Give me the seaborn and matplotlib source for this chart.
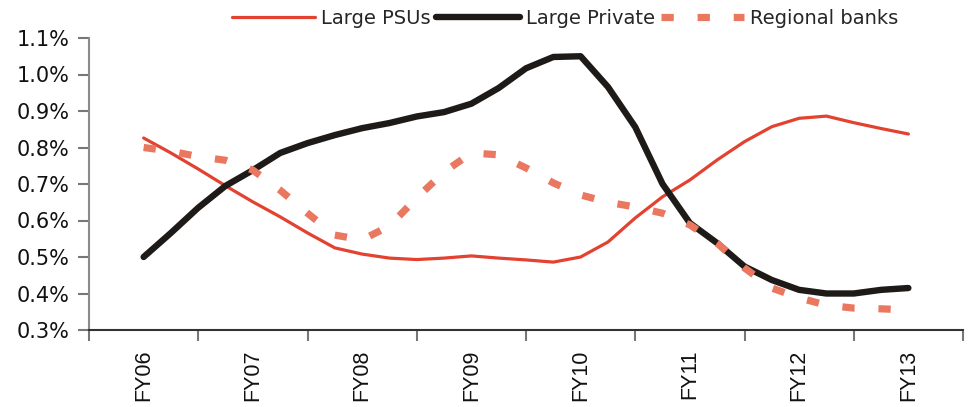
import numpy as np
import pandas as pd
import matplotlib
matplotlib.use("Agg")
import matplotlib.pyplot as plt
from matplotlib.ticker import FixedLocator, FuncFormatter
import seaborn as sns

# Fiscal years shown on the x axis
years = ["FY06", "FY07", "FY08", "FY09", "FY10", "FY11", "FY12", "FY13"]

# Quarterly readings (in %), FY06 through FY13
large_psus = [0.826, 0.785, 0.741, 0.695, 0.651, 0.610, 0.566, 0.525, 0.508,
              0.497, 0.493, 0.497, 0.503, 0.497, 0.492, 0.486, 0.500, 0.541,
              0.607, 0.665, 0.711, 0.766, 0.816, 0.857, 0.880, 0.886, 0.868,
              0.852, 0.837]
large_private = [0.500, 0.566, 0.635, 0.695, 0.738, 0.785, 0.812, 0.834, 0.853,
                 0.867, 0.885, 0.897, 0.920, 0.963, 1.017, 1.048, 1.050, 0.966,
                 0.856, 0.700, 0.593, 0.538, 0.474, 0.437, 0.410, 0.400, 0.400,
                 0.410, 0.415]
regional_banks = [0.800, 0.790, 0.775, 0.765, 0.738, 0.683, 0.620, 0.560, 0.547,
                  0.585, 0.662, 0.733, 0.785, 0.780, 0.744, 0.703, 0.670, 0.650,
                  0.637, 0.620, 0.588, 0.538, 0.470, 0.415, 0.388, 0.368, 0.360,
                  0.358, 0.355]

quarters = np.arange(len(large_psus)) / 4.0

df = pd.DataFrame({
    "t": np.tile(quarters, 3),
    "value": large_psus + large_private + regional_banks,
    "series": ["Large PSUs"] * len(large_psus)
              + ["Large Private"] * len(large_private)
              + ["Regional banks"] * len(regional_banks),
})

sns.set_theme(style="white")
plt.rcParams["font.family"] = ["DejaVu Sans"]

fig = plt.figure(figsize=(9.73, 4.07), dpi=100)
ax = fig.add_axes([89 / 973, 1 - 330 / 407, (963 - 89) / 973, (330 - 38) / 407])

styles = {
    "Large PSUs": dict(color="#E2422F", lw=2.3, dash=None),
    "Large Private": dict(color="#1E1A17", lw=4.6, dash=None),
    "Regional banks": dict(color="#EA7860", lw=5.2, dash=(1.7, 3.3)),
}

for name, st in styles.items():
    sub = df[df["series"] == name]
    sns.lineplot(data=sub, x="t", y="value", ax=ax, color=st["color"],
                 linewidth=st["lw"], label=name, legend=False)
    line = ax.get_lines()[-1]
    if st["dash"] is not None:
        line.set_dashes(st["dash"])
        line.set_dash_capstyle("butt")
    else:
        line.set_solid_capstyle("round")
        line.set_solid_joinstyle("round")

ax.set_xlim(-0.5, len(years) - 0.5)
ax.set_ylim(0.3, 1.1)
ax.set_xlabel("")
ax.set_ylabel("")

# Category labels centred, tick marks on category boundaries
ax.xaxis.set_major_locator(FixedLocator(np.arange(len(years))))
ax.set_xticklabels(years, rotation=90, fontsize=15.5, color="#111111",
                   family=["Liberation Sans", "DejaVu Sans"])
ax.xaxis.set_minor_locator(FixedLocator(np.arange(len(years) + 1) - 0.5))
ax.tick_params(axis="x", which="major", length=0, pad=14)
ax.tick_params(axis="x", which="minor", direction="out", length=8,
               width=1.5, color="#777777", bottom=True)

ax.yaxis.set_major_locator(FixedLocator(np.round(np.arange(0.3, 1.101, 0.1), 1)))
ax.yaxis.set_major_formatter(FuncFormatter(lambda v, _: f"{v:.1f}%"))
ax.tick_params(axis="y", direction="out", length=8, width=1.5,
               color="#777777", labelsize=15, labelcolor="#111111", left=True, pad=6)

for side in ("top", "right"):
    ax.spines[side].set_visible(False)
ax.spines["left"].set_color("#8a8a8a")
ax.spines["left"].set_linewidth(1.5)
ax.spines["bottom"].set_color("#333333")
ax.spines["bottom"].set_linewidth(1.5)

handles, labels = ax.get_legend_handles_labels()
fig.legend(handles, labels, loc="center", bbox_to_anchor=(565 / 973, 1 - 18 / 407),
           ncol=3, frameon=False, fontsize=14, handlelength=4.3,
           handletextpad=0.3, columnspacing=0.3, borderaxespad=0)

fig.savefig("out.png", dpi=100)
